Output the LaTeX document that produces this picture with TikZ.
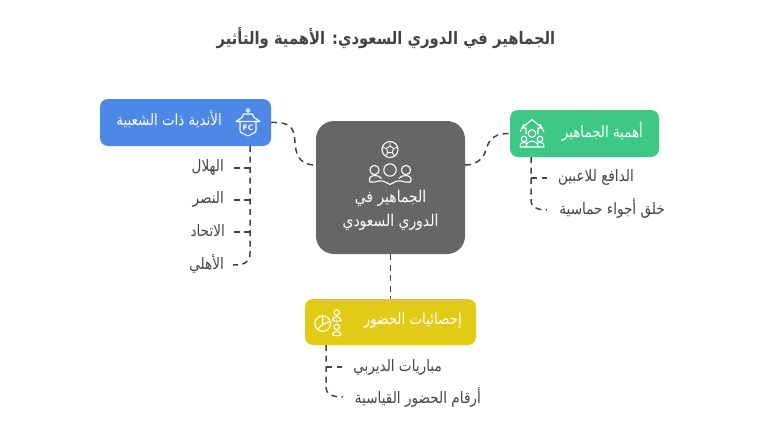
\documentclass[tikz,border=0pt]{standalone}
\usepackage{fontspec}
\setmainfont{DejaVu Sans}
\TeXXeTstate=1
\newfontfamily\arfont[Script=Arabic,FakeStretch=0.86]{DejaVu Sans}
\newcommand{\ar}[1]{\arfont\beginR #1\endR}
\definecolor{cblue}{HTML}{4E88E7}
\definecolor{cgreen}{HTML}{3EC886}
\definecolor{cyellow}{HTML}{E2CB14}
\definecolor{cgrey}{HTML}{666666}
\definecolor{ctext}{HTML}{444444}
\definecolor{cline}{HTML}{444444}
\begin{document}
\begin{tikzpicture}[x=1pt,y=-1pt,
  boxn/.style={draw=none,rounded corners=8pt,inner sep=0pt},
  head/.style={font=\fontsize{15.6}{18}\selectfont,text=white,inner sep=0pt},
  leaf/.style={font=\fontsize{15.8}{18}\selectfont,text=ctext,inner sep=0pt,anchor=east},
  conn/.style={draw=cline,line width=1.5pt,dash pattern=on 6pt off 4.5pt},
  icon/.style={draw=white,line width=1.1pt,fill=none,line join=round}]
\useasboundingbox (0,0) rectangle (770,434);
\node[font=\bfseries\fontsize{17.2}{20}\selectfont,text=ctext,inner sep=0pt] (title) at (386,38) {\ar{الجماهير في الدوري السعودي: الأهمية والتأثير}};

\node[boxn,fill=cgrey,rounded corners=18pt,minimum width=149pt,minimum height=133pt] (center) at (390.5,187.5) {};
\node[boxn,fill=cblue,minimum width=171pt,minimum height=47pt] (blue) at (185.5,122.5) {};
\node[boxn,fill=cgreen,minimum width=149pt,minimum height=47pt] (green) at (584.5,133.5) {};
\node[boxn,fill=cyellow,minimum width=171pt,minimum height=46pt] (yellow) at (390.5,322) {};

\node[head,font=\fontsize{16.2}{18}\selectfont] (c1) at (390.5,198) {\ar{الجماهير في}};
\node[head,font=\fontsize{16.2}{18}\selectfont] (c2) at (390.5,222) {\ar{الدوري السعودي}};

\node[head,anchor=east] (bluet) at (222,119) {\ar{الأندية ذات الشعبية}};
\node[head,anchor=east] (greent) at (643,132) {\ar{أهمية الجماهير}};
\node[head,anchor=east] (yellowt) at (462,320) {\ar{إحصائيات الحضور}};

\node[leaf] (l1) at (224,167) {\ar{الهلال}};
\node[leaf] (l2) at (224,199) {\ar{النصر}};
\node[leaf] (l3) at (225,231) {\ar{الاتحاد}};
\node[leaf] (l4) at (224,264) {\ar{الأهلي}};
\node[leaf] (g1) at (634,177) {\ar{الدافع للاعبين}};
\node[leaf] (g2) at (665,209) {\ar{خلق أجواء حماسية}};
\node[leaf] (y1) at (442,367) {\ar{مباريات الديربي}};
\node[leaf] (y2) at (481,398) {\ar{أرقام الحضور القياسية}};

\coordinate (bb) at (250,146);
\coordinate (gb) at (531,157);
\coordinate (yb) at (326,345);

% main connectors
\draw[conn] (blue.east) .. controls (292,122) and (294,128) .. (295,143) .. controls (296,158) and (302,165) .. (center.west|-0,165);
\draw[conn] (center.east|-0,165) .. controls (475,165) and (483,160) .. (486,150) .. controls (488,144) and (490,133) .. (green.west);
\draw[conn] (center.south) -- (yellow.north);
% buses
\draw[conn] (bb) -- (250,253) .. controls (250,262) and (245,265) .. (233,265);
\draw[conn] (250,168) -- (234,168);
\draw[conn] (250,200) -- (234,200);
\draw[conn] (250,232) -- (234,232);
\draw[conn] (gb) -- (531,200) .. controls (531,207) and (537,210) .. (547,210);
\draw[conn] (531,178) -- (547,178);
\draw[conn] (yb) -- (326,388) .. controls (326,394) and (332,397) .. (343,397);
\draw[conn] (326,367) -- (342,367);

% centre icon: ball and people
\draw[icon] (390,149.5) circle (8);
\draw[icon,line width=.9pt] (390,146) -- (393.5,148.5) -- (392.2,152.6) -- (387.8,152.6) -- (386.5,148.5) -- cycle;
\draw[icon,line width=.8pt] (390,146) -- (390,142) (393.5,148.5) -- (397.3,147.3) (392.2,152.6) -- (394.5,156) (387.8,152.6) -- (385.5,156) (386.5,148.5) -- (382.7,147.3);
\draw[icon] (390,170) circle (6.2) (374.5,170) circle (4.6) (406,170) circle (4.6);
\draw[icon] (370,182) .. controls (368,178) and (371,175.5) .. (375,175.5) .. controls (378,175.5) and (380,176.5) .. (381.5,178.5);
\draw[icon] (410.5,182) .. controls (412.5,178) and (409.5,175.5) .. (405.5,175.5) .. controls (402.5,175.5) and (400.5,176.5) .. (399,178.5);
\draw[icon] (370,182) .. controls (373,182.5) and (376,182) .. (379,181) .. controls (383,180) and (387,183) .. (390,184.5) .. controls (393,183) and (397,180) .. (401,181) .. controls (404,182) and (407,182.5) .. (410.5,182);

% blue icon: crest with roof
\draw[icon] (248,110.5) circle (1.8);
\draw[icon] (243.5,114) -- (252.5,114) -- (254,117.5) -- (260,121.5) -- (236,121.5) -- (242,117.5) -- cycle;
\draw[icon] (240,122) -- (240,130.5) .. controls (240,132) and (241,132.5) .. (243,133.5) -- (248,136) -- (253,133.5) .. controls (255,132.5) and (256,132) .. (256,130.5) -- (256,122);
\node[font=\bfseries\fontsize{7.5}{8}\selectfont,text=white,inner sep=0pt] (fc) at (248,127.7) {FC};

% green icon: people under arrow
\draw[icon] (526,134) -- (526,128) -- (522,128) -- (532,119.5) -- (542,128) -- (538,128) -- (538,134);
\draw[icon] (524,124) -- (520,132) (540,124) -- (544,132);
\draw[icon] (532,133.5) circle (3.8) (524,139) circle (2.8) (540,139) circle (2.8);
\draw[icon] (520,147) .. controls (520,143) and (522,142.5) .. (524,142.5) .. controls (525.5,142.5) and (526.5,143) .. (527,144) (544,147) .. controls (544,143) and (542,142.5) .. (540,142.5) .. controls (538.5,142.5) and (537.5,143) .. (537,144);
\draw[icon] (526,147) .. controls (526,139) and (538,139) .. (538,147) (520,147) -- (544,147);

% yellow icon: pie and people
\draw[icon] (322.7,323.5) circle (7.8);
\draw[icon] (322.7,324.5) -- (322.7,316) (322.7,324.5) -- (330,321.5) (322.7,324.5) -- (317,329.5);
\draw[icon] (336.7,312.5) circle (2.8) (336.7,327) circle (2.8);
\draw[icon] (332.5,320.5) .. controls (332.5,315.5) and (341,315.5) .. (341,320.5) .. controls (339,321.5) and (334.5,321.5) .. (332.5,320.5);
\draw[icon] (332.5,335) .. controls (332.5,330) and (341,330) .. (341,335) .. controls (339,336) and (334.5,336) .. (332.5,335);
\end{tikzpicture}
\end{document}
